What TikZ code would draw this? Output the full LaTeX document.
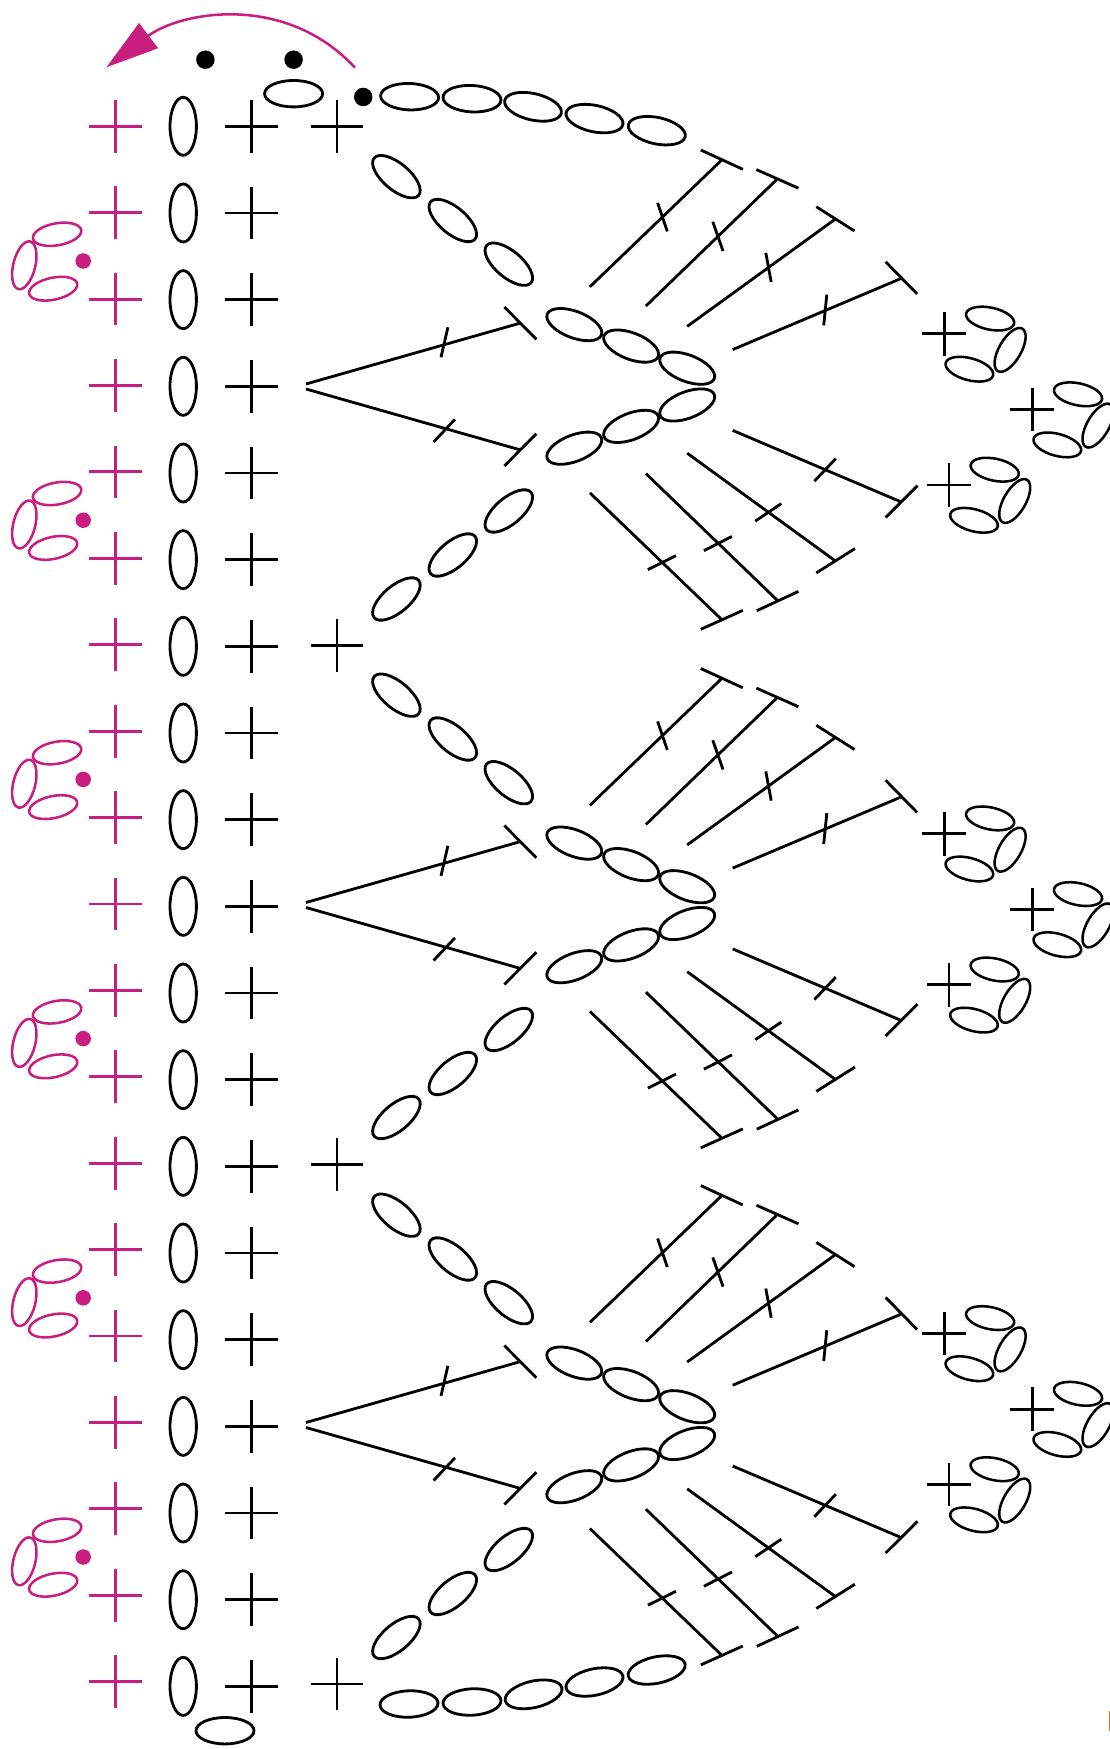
\documentclass[tikz,border=0pt]{standalone}
\usepackage{xcolor}
\usepackage{tikz}
\usetikzlibrary{shapes.geometric, arrows.meta}
\definecolor{magenta2}{HTML}{C71E7F}
\definecolor{speck}{HTML}{E07020}
\tikzstyle{stitch} = [line width=0.8pt, line cap=butt]
\tikzstyle{arrow}  = [line width=0.72pt, magenta2, -{Triangle[length=15pt,width=8.8pt]}]
\tikzstyle{chst}   = [ellipse, draw, line width=0.8pt, inner sep=0, outer sep=0, minimum width=0.58cm, minimum height=0.264cm]
\tikzstyle{loopst} = [ellipse, draw, line width=0.72pt, inner sep=0, outer sep=0, minimum width=0.49cm, minimum height=0.22cm]
\tikzstyle{knot}   = [circle, fill, inner sep=0, outer sep=0, minimum size=0.185cm]
\tikzstyle{pinkknot} = [circle, fill=magenta2, inner sep=0, outer sep=0, minimum size=0.155cm]
\tikzset{plusst/.pic={\draw[stitch] (-26.4,0) -- (26.4,0) (0,-26.4) -- (0,26.4);}}
\tikzset{plussmall/.pic={\draw[stitch] (-22,0) -- (22,0) (0,-21.8) -- (0,21.8);}}

\begin{document}
\begin{tikzpicture}[x=0.01cm, y=-0.01cm]
    \clip (0,0) rectangle (1110,1749);

    % columns of rows
    \foreach \i in {0,...,18}{
        \pgfmathsetmacro\ypink{126.3+\i*86.4}
        \pgfmathsetmacro\yblack{126.3+\i*86.67}
        \pic[color=magenta2] at (115.4,\ypink) {plusst};
        \node (col\i) at (183.2,\yblack) [chst, rotate=90] {};
        \pic at (251.8,\yblack) {plusst};
    }

    % pink loops on the left
    \foreach \k in {0,...,5}{
        \pgfmathsetmacro\ydot{261+\k*259.2}
        \begin{scope}[shift={(83.2,\ydot)}]
            \node (dot\k)   at (0,0)        [pinkknot] {};
            \node (ltop\k)  at (-26.1,-26.7) [loopst, draw=magenta2, rotate=10] {};
            \node (lleft\k) at (-58.9,4.3)   [loopst, draw=magenta2, rotate=76] {};
            \node (lbot\k)  at (-30,27.7)    [loopst, draw=magenta2, rotate=12] {};
        \end{scope}
    }

    % top and bottom
    \node (dota) at (205.4,59.7) [knot] {};
    \node (dotb) at (293.6,59.7) [knot] {};
    \node (dotc) at (363.2,97)   [knot] {};
    \node (turn) at (293.6,93.7) [chst] {};
    \node (turnb) at (225,1730.7) [chst] {};
    \foreach \n/\x/\y/\a in {1/409.6/96.7/-2, 2/472/98.7/-3, 3/533/106.8/-13, 4/594.5/118.6/-12, 5/656.8/130.7/-12}{
        \node (top\n) at (\x,\y) [chst, rotate=\a] {};
    }
    \foreach \n/\x/\y/\a in {1/409/1704/2, 2/472/1702/3, 3/533.6/1694.3/13, 4/594.5/1682/12, 5/656.7/1670/12}{
        \node (bot\n) at (\x,\y) [chst, rotate=\a] {};
    }

    \coordinate (arcstart) at (355,67.7);
    \coordinate (arcend)   at (106.4,67.3);
    \draw [arrow] (arcstart) .. controls (285,-8) and (180,12) .. (arcend);

    \fill [speck] (1108.8,1711) rectangle (1110,1731);

    % second crosses
    \foreach \k in {0,...,3}{
        \pgfmathsetmacro\ycross{126.3+\k*519.2}
        \pic at (337,\ycross) {plusst};
    }

    % the three repeats: chains, fans, picots
    \foreach \k/\offc/\offf/\offp in {0/0/0/0, 1/518.5/518.5/499.8, 2/1038.5/1035.6/999.5}{
        \begin{scope}[yshift=-\offc*0.01cm]
            \foreach \n/\x/\y in {1/396.4/176.7, 2/452.8/220.5, 3/508.8/264.2}{
                \node (up\k\n) at (\x,\y) [chst, rotate=-40] {};
            }
            \foreach \n/\x/\y in {1/396.4/599, 2/452.8/555, 3/508.8/511}{
                \node (dn\k\n) at (\x,\y) [chst, rotate=40] {};
            }
            \foreach \n/\x/\y in {1/574.3/324.6, 2/631.1/346.1, 3/687.2/368.2}{
                \node (ca\k\n) at (\x,\y) [chst, rotate=-21] {};
            }
            \foreach \n/\x/\y in {1/574.3/448.2, 2/631.1/426.4, 3/687.2/405}{
                \node (cb\k\n) at (\x,\y) [chst, rotate=21] {};
            }
            \draw [stitch] (306,384) -- (519.6,323.3) (504.3,307) -- (536.4,339.3) (447.9,327.3) -- (441,357.3);
            \draw [stitch] (306,389) -- (519.6,449.7) (536.4,433.7) -- (504.3,466) (433.6,442) -- (455,419.3);
        \end{scope}
        \begin{scope}[yshift=-\offf*0.01cm]
            \foreach \ax/\ay/\bx/\by/\cx/\cy/\px/\py/\qx/\qy/\rx/\ry in {
                589.9/286.8/721/160.7/700.8/150/742.8/169.3/657.6/202.9/667.3/231.4,
                645.9/306/776.3/180/756.4/169.6/798.4/188.2/712.8/221.8/723/251,
                687.2/326.4/834.6/219.6/816.3/206.8/854.5/231/765.8/252.9/771.2/282.1,
                732.7/349.6/900.8/278.6/885.6/261.8/917.1/293.9/826.8/294.6/823.7/325.4,
                589.9/492.9/721/618.9/700.8/629.3/742.8/610.4/647.9/569.6/675.9/555.7,
                645.9/473.6/777/600/756.8/610.7/798.4/591.4/703.9/550.7/731.9/536.4,
                687.2/453.2/834.6/560.4/816.3/572.9/854.9/548.6/755.3/521.1/781.3/503.6,
                732.7/430.4/900.8/501.8/885.6/517.5/917.5/485.7/814.4/481.1/835.8/458.6}{
                \draw [stitch] (\ax,\ay) -- (\bx,\by) (\cx,\cy) -- (\px,\py) (\qx,\qy) -- (\rx,\ry);
            }
        \end{scope}
        \begin{scope}[yshift=-\offp*0.01cm]
            \foreach \n/\x/\y in {1/944.4/333.9, 2/1032.3/409.6, 3/949/485}{
                \pic at (\x,\y) {plussmall};
                \begin{scope}[shift={(\x,\y)}]
                    \node (pa\k\n) at (45.7,-15.3) [loopst, rotate=-12] {};
                    \node (pb\k\n) at (65.7,16)    [loopst, rotate=60] {};
                    \node (pc\k\n) at (25,35.3)    [loopst, rotate=-15] {};
                \end{scope}
            }
        \end{scope}
    }
\end{tikzpicture}
\end{document}
